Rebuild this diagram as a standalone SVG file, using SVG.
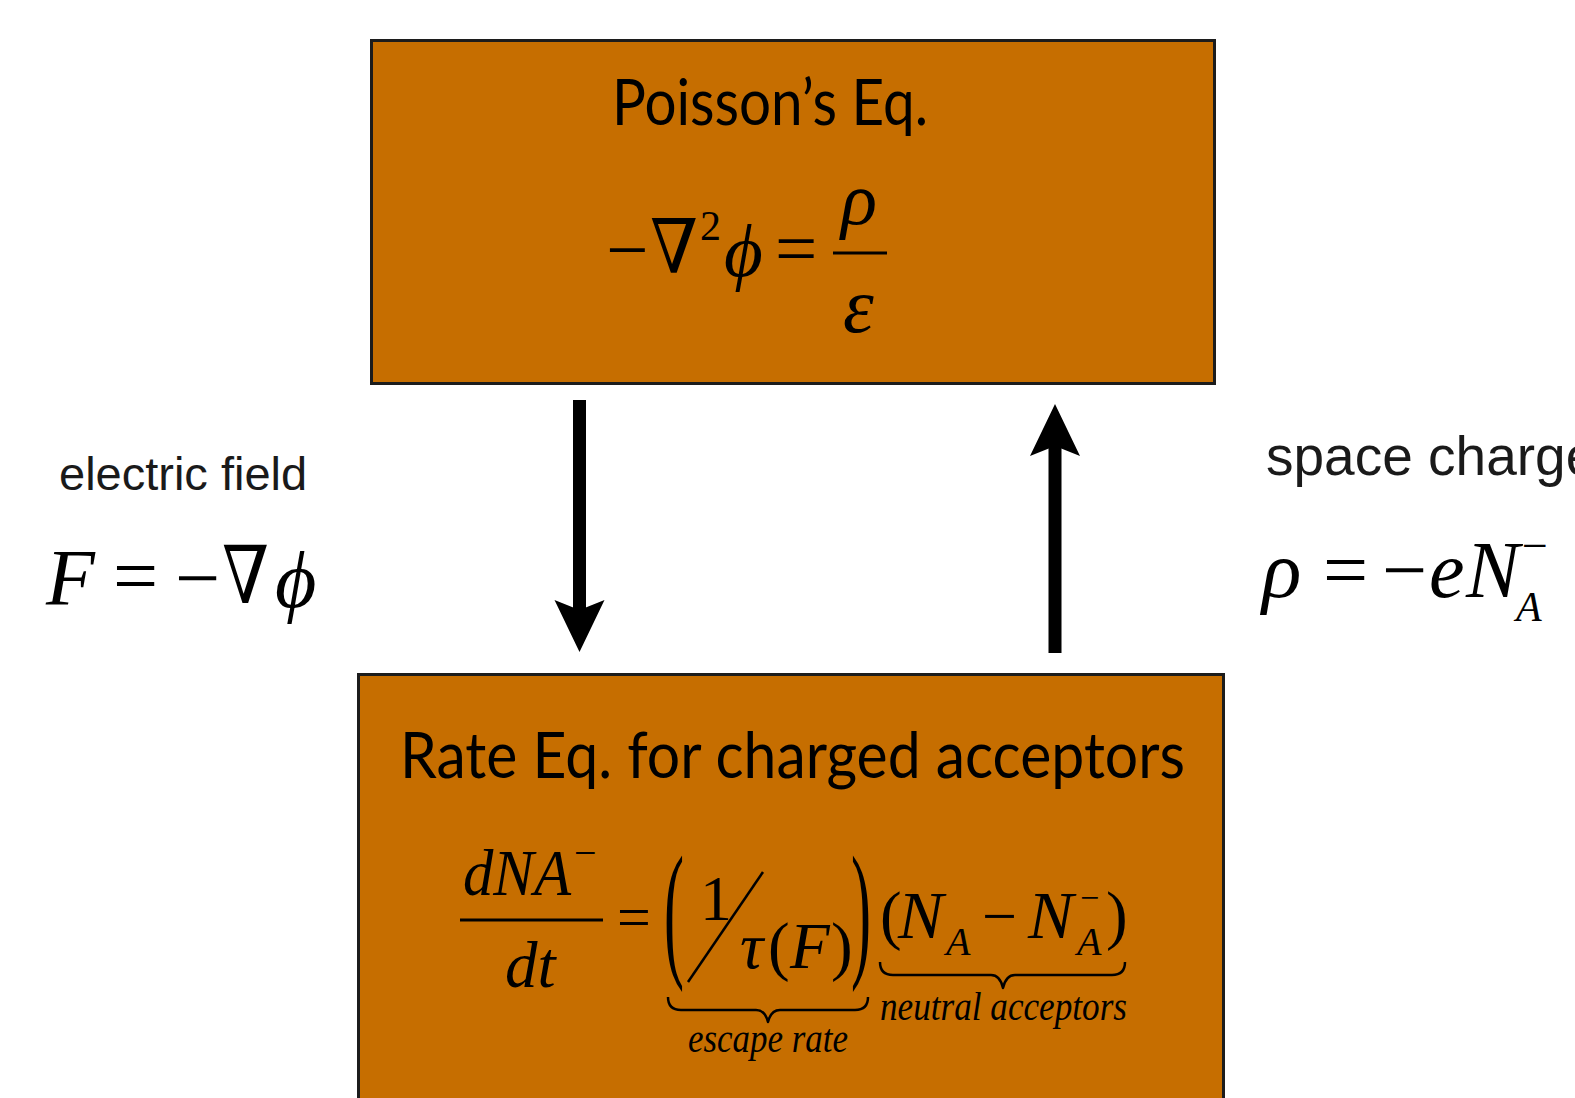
<svg xmlns="http://www.w3.org/2000/svg" width="1575" height="1098" viewBox="0 0 1575 1098">
<style>
.box{fill:#C66E00;stroke:#1c1c1c;stroke-width:3}
.title{font-family:Lato,"Liberation Sans",sans-serif;font-size:64px;fill:#000}
.m{font-family:"Liberation Serif","DejaVu Serif",serif;fill:#000}
.i{font-style:italic}
.lab{font-family:"Liberation Sans",Arial,sans-serif;fill:#1a1a1a}
.arrow{stroke:#000;stroke-width:13;fill:none;marker-end:url(#head)}
.brace{fill:none;stroke:#000;stroke-width:2.5;stroke-linejoin:round}
.rule{stroke:#000;stroke-width:3}
</style>
<defs>
<marker id="head" markerUnits="userSpaceOnUse" viewBox="-12 -27 58 54" refX="0" refY="0" markerWidth="58" markerHeight="54" orient="auto" overflow="visible">
<path d="M42,0 L-10,-25 L0,0 L-10,25 Z" fill="#000"/>
</marker>
</defs>
<rect width="1575" height="1098" fill="#fff"/>

<g id="poisson">
<rect class="box" x="371.5" y="40.5" width="843" height="343"/>
<text class="title" x="612" y="125" textLength="316" lengthAdjust="spacingAndGlyphs">Poisson’s Eq.</text>
<text class="m" x="606" y="275" font-size="75">−</text>
<text class="m" x="650" y="273" font-size="75" textLength="48" lengthAdjust="spacingAndGlyphs">∇</text>
<text class="m" x="700" y="240" font-size="42">2</text>
<text class="m i" x="724" y="276" font-size="75">ϕ</text>
<text class="m" x="775" y="273" font-size="75">=</text>
<line class="rule" x1="833" y1="253" x2="887" y2="253"/>
<text class="m i" x="841" y="224" font-size="75">ρ</text>
<text class="m i" x="843" y="332" font-size="78">ε</text>
</g>

<g id="rate-eq">
<rect class="box" x="358.5" y="674.5" width="865" height="440"/>
<text class="title" x="400" y="778" textLength="785" lengthAdjust="spacingAndGlyphs">Rate Eq. for charged acceptors</text>
<text class="m i" x="463" y="895" font-size="65" textLength="108" lengthAdjust="spacingAndGlyphs">dNA</text>
<text class="m" x="574" y="866" font-size="40">−</text>
<line class="rule" x1="460" y1="920" x2="603" y2="920"/>
<text class="m i" x="505" y="987" font-size="65">dt</text>
<text class="m" x="617" y="937" font-size="60">=</text>
<text class="m" font-size="150" transform="translate(664,960) scale(0.4,1)">(</text>
<text class="m" x="700" y="920" font-size="64">1</text>
<line x1="763" y1="872" x2="688" y2="982" stroke="#000" stroke-width="2.5"/>
<text class="m i" x="740" y="968" font-size="65">τ</text>
<text class="m" x="768" y="968" font-size="65">(</text>
<text class="m i" x="790" y="968" font-size="65">F</text>
<text class="m" x="831" y="968" font-size="65">)</text>
<text class="m" font-size="150" transform="translate(851,960) scale(0.4,1)">)</text>
<path class="brace" d="M668,997 Q668,1010 681,1010 L756,1010 Q765,1010 768,1022 Q771,1010 780,1010 L855,1010 Q868,1010 868,997"/>
<text class="m i" x="688" y="1052" font-size="40" textLength="160" lengthAdjust="spacingAndGlyphs">escape rate</text>
<text class="m" x="880" y="937" font-size="65">(</text>
<text class="m i" x="898" y="938" font-size="68">N</text>
<text class="m i" x="946" y="955" font-size="40">A</text>
<text class="m" x="982" y="937" font-size="62">−</text>
<text class="m i" x="1028" y="938" font-size="68">N</text>
<text class="m i" x="1077" y="955" font-size="40">A</text>
<text class="m" x="1080" y="909" font-size="34">−</text>
<text class="m" x="1106" y="937" font-size="65">)</text>
<path class="brace" d="M880,962 Q880,975 893,975 L991,975 Q1000,975 1003,988 Q1006,975 1015,975 L1112,975 Q1125,975 1125,962"/>
<text class="m i" x="880" y="1020" font-size="40" textLength="247" lengthAdjust="spacingAndGlyphs">neutral acceptors</text>
</g>

<g id="connectors">
<line class="arrow" x1="579.5" y1="400" x2="579.5" y2="610"/>
<line class="arrow" x1="1055" y1="653" x2="1055" y2="446"/>
</g>

<g id="electric-field-label">
<text class="lab" x="59" y="490" font-size="47">electric field</text>
<text class="m i" x="46" y="605" font-size="80">F</text>
<text class="m" x="113" y="603" font-size="80">=</text>
<text class="m" x="175" y="605" font-size="80">−</text>
<text class="m" x="222" y="603" font-size="80" textLength="47" lengthAdjust="spacingAndGlyphs">∇</text>
<text class="m i" x="275" y="607" font-size="80">ϕ</text>
</g>

<g id="space-charge-label">
<text class="lab" x="1266" y="475" font-size="55">space charge</text>
<text class="m i" x="1262" y="597" font-size="82">ρ</text>
<text class="m" x="1323" y="597" font-size="80">=</text>
<text class="m" x="1382" y="597" font-size="80">−</text>
<text class="m i" x="1429" y="597" font-size="80">e</text>
<text class="m i" x="1466" y="597" font-size="80">N</text>
<text class="m" x="1522" y="561" font-size="46">−</text>
<text class="m i" x="1516" y="621" font-size="42">A</text>
</g>
</svg>
